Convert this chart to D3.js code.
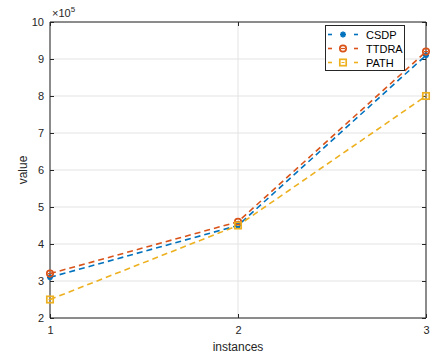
<!DOCTYPE html>
<html><head><meta charset="utf-8">
<script src="https://cdn.jsdelivr.net/npm/d3@7"></script>
<style>body{margin:0;background:#fff;}svg{display:block;font-family:"Liberation Sans",Arial,sans-serif;}</style>
</head><body><svg id="c" width="432" height="357"></svg>
<script>
const categories = [1, 2, 3];
const csdp = [3.1, 4.5, 9.1];
const ttdra = [3.2, 4.6, 9.2];
const path = [2.5, 4.5, 8.0];
const yTicks = [2, 3, 4, 5, 6, 7, 8, 9, 10];
const xTicks = [1, 2, 3];
const seriesNames = ["CSDP", "TTDRA", "PATH"];
const colors = ["#0072BD", "#D95319", "#EDB120"];

const svg = d3.select("#c");
const m = {l: 50, r: 6, t: 22, b: 39};
const W = 432, H = 357;
const x = d3.scaleLinear().domain([1, 3]).range([m.l, W - m.r]);
const y = d3.scaleLinear().domain([2, 10]).range([H - m.b, m.t]);

const g = svg.append("g");
g.selectAll(".gy").data(yTicks).enter().append("line")
  .attr("x1", x(1)).attr("x2", x(3)).attr("y1", d => y(d)).attr("y2", d => y(d))
  .attr("stroke", "#e3e3e3").attr("stroke-width", 1);
g.selectAll(".gx").data(xTicks).enter().append("line")
  .attr("y1", y(2)).attr("y2", y(10)).attr("x1", d => x(d)).attr("x2", d => x(d))
  .attr("stroke", "#e3e3e3").attr("stroke-width", 1);

const ax = d3.axisBottom(x).tickValues(xTicks).tickSize(-4).tickPadding(8).tickFormat(d3.format("d"));
const ay = d3.axisLeft(y).tickValues(yTicks).tickSize(-4).tickPadding(6).tickFormat(d3.format("d"));
const axT = d3.axisTop(x).tickValues(xTicks).tickSize(-4).tickFormat("");
const ayR = d3.axisRight(y).tickValues(yTicks).tickSize(-4).tickFormat("");
function style(sel){
  sel.selectAll("path").attr("stroke", "#262626");
  sel.selectAll("line").attr("stroke", "#262626");
  sel.selectAll("text").attr("fill", "#262626").style("font-size", "11px").style("font-family", "Liberation Sans, Arial, sans-serif");
}
svg.append("g").attr("transform", `translate(0,${y(2)})`).call(ax).call(style).call(s => s.select(".domain").attr("d", `M${x(1)},0H${x(3)}`));
svg.append("g").attr("transform", `translate(${x(1)},0)`).call(ay).call(style).call(s => s.select(".domain").attr("d", `M0,${y(2)}V${y(10)}`));
svg.append("g").attr("transform", `translate(0,${y(10)})`).call(axT).call(style).call(s => s.select(".domain").attr("d", `M${x(1)},0H${x(3)}`));
svg.append("g").attr("transform", `translate(${x(3)},0)`).call(ayR).call(style).call(s => s.select(".domain").attr("d", `M0,${y(2)}V${y(10)}`));

const ex = svg.append("text").attr("x", x(1) + 2).attr("y", y(10) - 5).attr("fill", "#262626").style("font-size", "11px");
ex.append("tspan").text("\u00d710");
ex.append("tspan").attr("dy", -5).style("font-size", "8px").text("5");

svg.append("text").attr("x", (x(1) + x(3)) / 2).attr("y", 351).attr("text-anchor", "middle")
  .attr("fill", "#262626").style("font-size", "12px").text("instances");
svg.append("text").attr("transform", `translate(27,${(y(2) + y(10)) / 2}) rotate(-90)`).attr("text-anchor", "middle")
  .attr("fill", "#262626").style("font-size", "12px").text("value");

const data = [csdp, ttdra, path];
const line = d3.line().x((d, i) => x(categories[i])).y(d => y(d));
function marker(sel, k, cx, cy) {
  const c = colors[k];
  if (k === 0) {
    const r = 3;
    for (let a = 0; a < 4; a++) {
      const t = a * Math.PI / 4;
      sel.append("line").attr("x1", cx - r * Math.cos(t)).attr("y1", cy - r * Math.sin(t))
        .attr("x2", cx + r * Math.cos(t)).attr("y2", cy + r * Math.sin(t))
        .attr("stroke", c).attr("stroke-width", 1.8);
    }
  } else if (k === 1) {
    sel.append("circle").attr("cx", cx).attr("cy", cy).attr("r", 3.2).attr("fill", "none").attr("stroke", c).attr("stroke-width", 1.7);
    sel.append("line").attr("x1", cx - 2).attr("x2", cx + 2).attr("y1", cy).attr("y2", cy).attr("stroke", c).attr("stroke-width", 1.2);
  } else {
    sel.append("rect").attr("x", cx - 3.2).attr("y", cy - 3.2).attr("width", 6.4).attr("height", 6.4).attr("fill", "none").attr("stroke", c).attr("stroke-width", 1.7);
    sel.append("line").attr("x1", cx - 1.5).attr("x2", cx + 1.5).attr("y1", cy).attr("y2", cy).attr("stroke", c).attr("stroke-width", 1);
  }
}
const plot = svg.append("g");
data.forEach((s, k) => {
  plot.append("path").datum(s).attr("d", line).attr("fill", "none").attr("stroke", colors[k])
    .attr("stroke-width", 1.6).attr("stroke-dasharray", "6,4");
});
data.forEach((s, k) => {
  s.forEach((v, i) => marker(plot, k, x(categories[i]), y(v)));
});

const lg = svg.append("g");
lg.append("rect").attr("x", 325.5).attr("y", 25.5).attr("width", 79).attr("height", 45)
  .attr("fill", "#fff").attr("stroke", "#262626").attr("stroke-width", 1);
seriesNames.forEach((n, k) => {
  const yy = 34.5 + k * 14;
  [[328, 332], [354, 358]].forEach(([a, b]) => {
    lg.append("line").attr("x1", a).attr("x2", b).attr("y1", yy).attr("y2", yy)
      .attr("stroke", colors[k]).attr("stroke-width", 1.6);
  });
  marker(lg, k, 343, yy);
  lg.append("text").attr("x", 366).attr("y", yy + 4).attr("fill", "#000").style("font-size", "11px").text(n);
});
</script></body></html>
